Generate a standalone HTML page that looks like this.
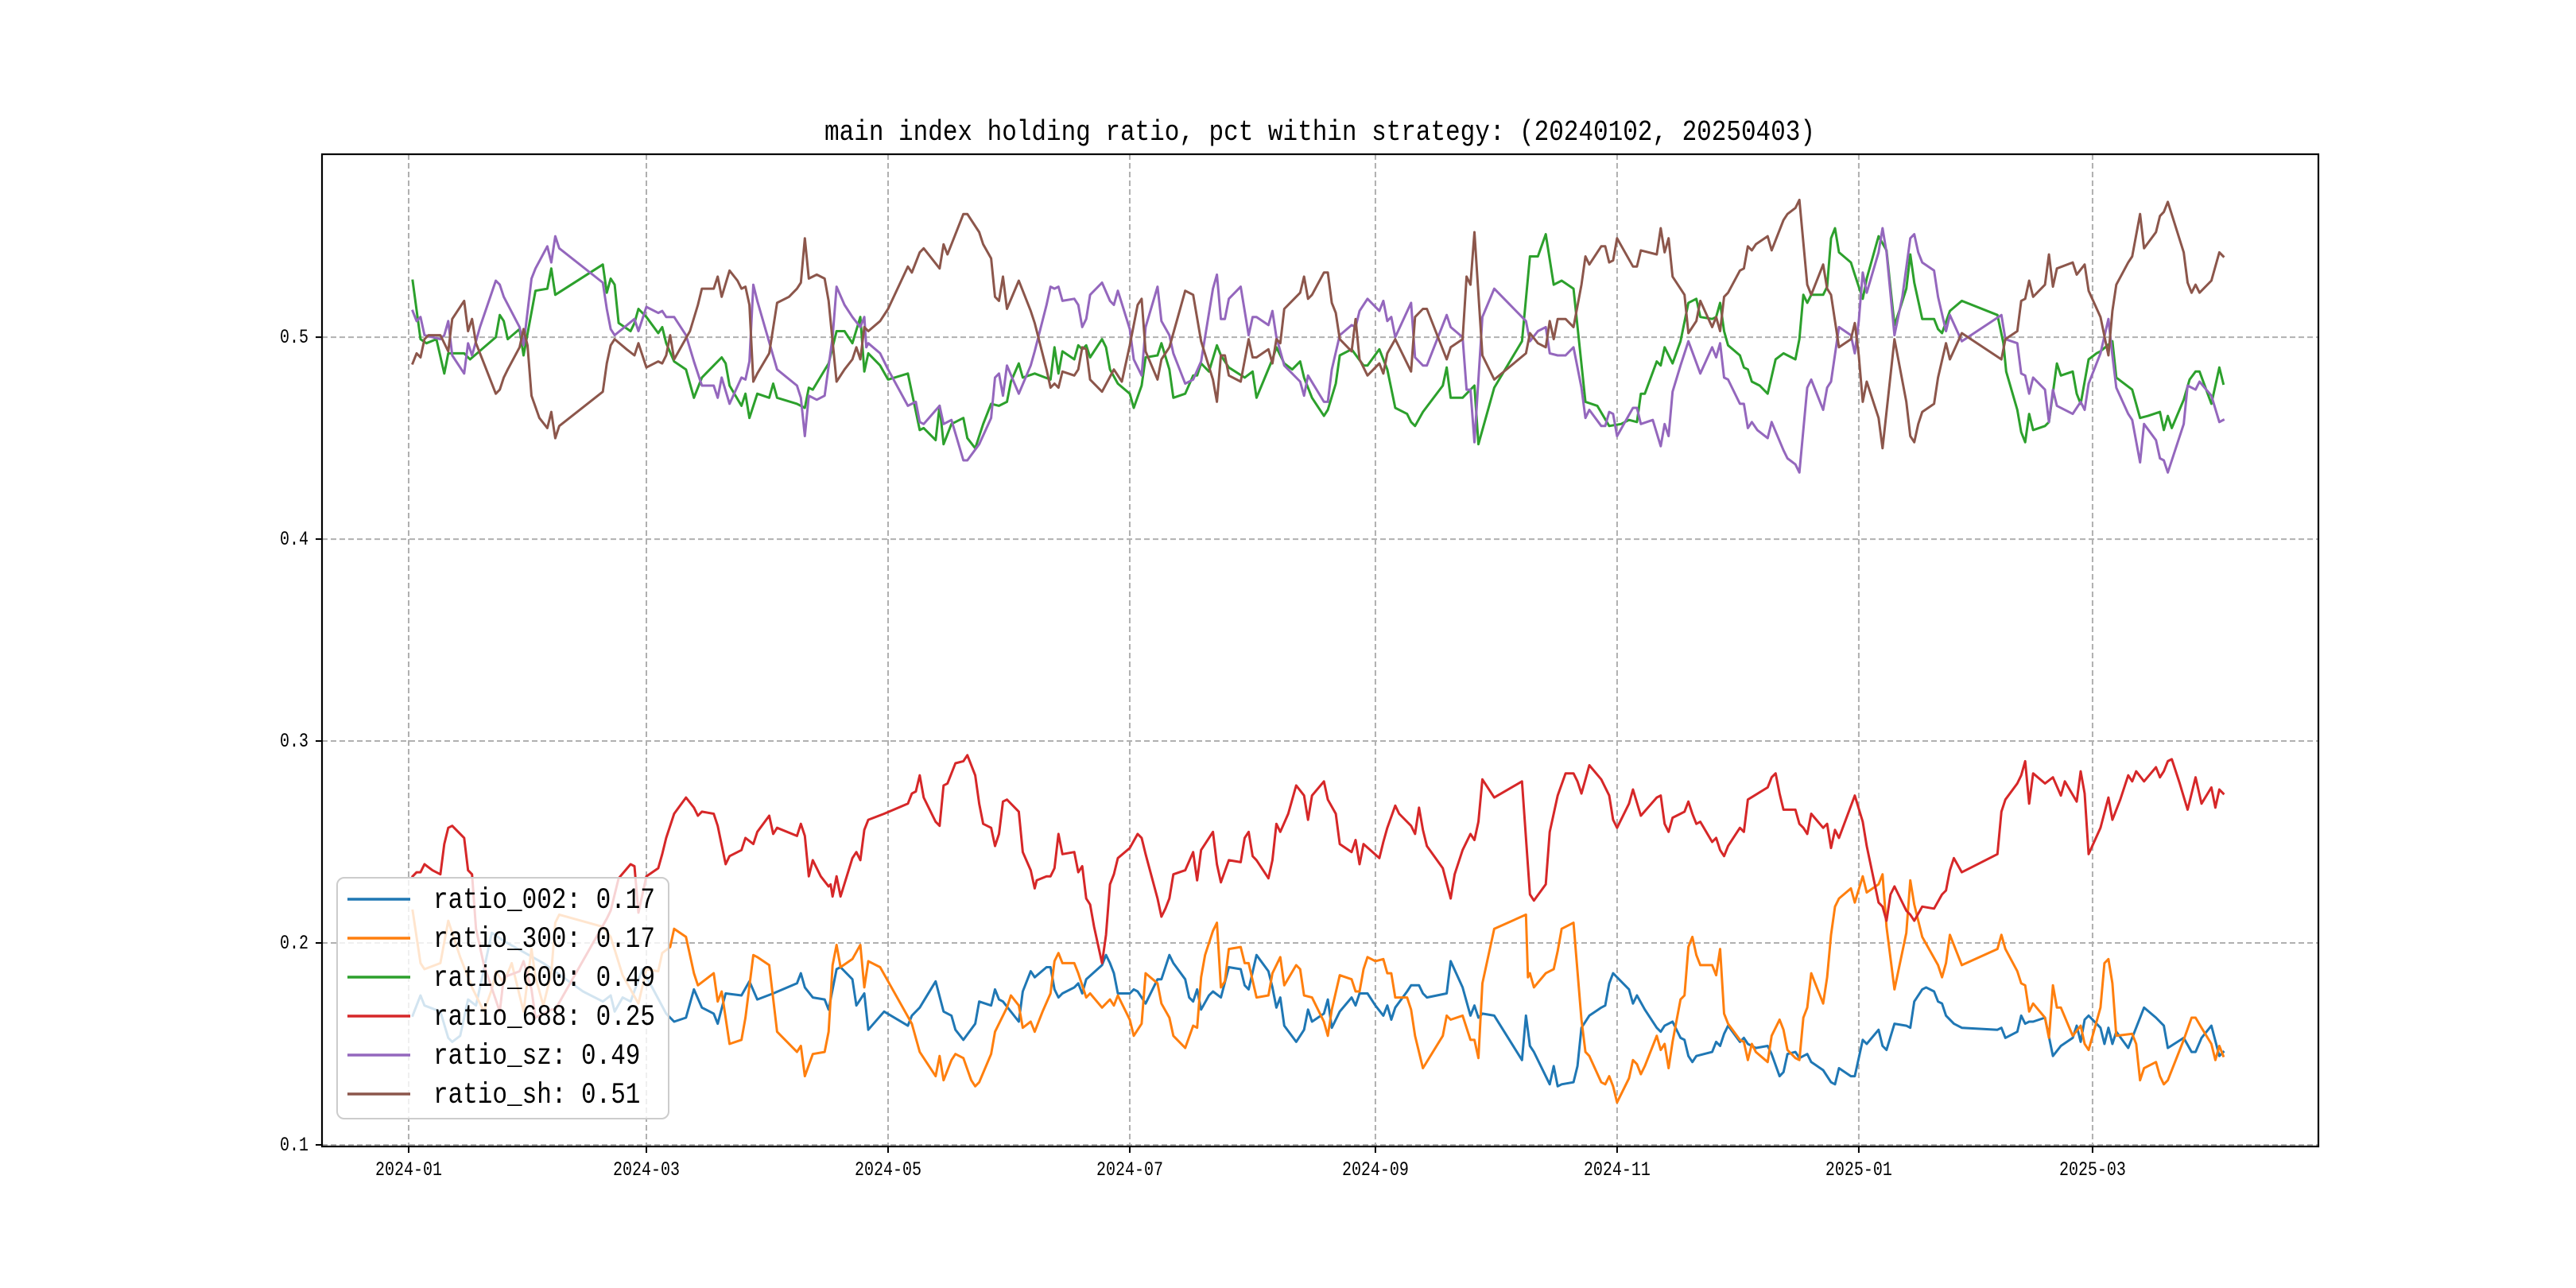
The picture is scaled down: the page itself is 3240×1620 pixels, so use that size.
<!DOCTYPE html>
<html><head><meta charset="utf-8"><title>main index holding ratio</title>
<style>
html,body{margin:0;padding:0;background:#fff;}
svg{display:block;}
text{font-family:"Liberation Mono","Noto Sans CJK SC",monospace;}
</style></head>
<body>
<svg id="chart" width="3240" height="1620" viewBox="0 0 3240 1620" xmlns="http://www.w3.org/2000/svg">
<rect x="0" y="0" width="3240" height="1620" fill="#fff"/>
<text x="1660" y="176" text-anchor="middle" font-size="31" transform="translate(1660,176) scale(1,1.18) translate(-1660,-176)">main index holding ratio, pct within strategy: (20240102, 20250403)</text>
<g id="grid"></g>
<g id="series"></g>
<rect x="405" y="194" width="2511" height="1248" fill="none" stroke="#000" stroke-width="2.2"/>
<g id="ticks"></g>
<g id="legend"></g>
</svg>
<script>
// ---- data (days since 2024-01-01) ----
const xTickDays = [0, 60, 121, 182, 244, 305, 366, 425];
const xTickLabels = ["2024-01","2024-03","2024-05","2024-07","2024-09","2024-11","2025-01","2025-03"];
const yTickValues = [0.1, 0.2, 0.3, 0.4, 0.5];
const yTickLabels = ["0.1","0.2","0.3","0.4","0.5"];
const seriesNames = ["ratio_002","ratio_300","ratio_600","ratio_688","ratio_sz","ratio_sh"];
const legendValues = ["0.17","0.17","0.49","0.25","0.49","0.51"];

const days002 = [1,3,4,8,10,11,13,15,17,21,24,34,39,44,49,51,52,54,56,59,65,67,70,72,74,77,78,80,84,86,88,92,98,99,100,102,105,106,108,109,112,113,115,116,120,126,127,129,133,135,137,138,140,143,144,147,148,149,150,154,155,157,158,161,162,163,164,165,168,169,170,171,175,176,177,178,179,182,183,184,186,189,190,192,193,196,197,198,199,200,202,203,205,207,210,211,212,214,217,218,219,220,221,224,225,226,227,228,231,232,233,235,238,239,240,242,244,246,247,248,249,252,253,255,256,257,262,263,266,268,269,270,271,274,281,282,283,284,288,289,290,291,294,295,296,298,301,302,303,304,308,309,310,312,315,316,317,319,321,322,323,324,325,329,330,331,332,333,336,337,338,340,343,344,346,347,348,350,351,353,354,357,359,360,361,364,365,367,368,371,372,373,375,378,379,380,382,383,385,386,387,388,390,392,401,402,403,406,407,408,409,410,413,415,417,420,421,422,423,424,427,428,429,430,431,434,438,441,443,444,448,450,451,452.5,455,457,458];
const vals002 = [.164,.174,.169,.166,.153,.151,.154,.172,.169,.205,.201,.19,.183,.176,.171,.174,.166,.173,.171,.187,.165,.161,.163,.177,.168,.165,.16,.175,.174,.181,.172,.175,.18,.185,.178,.173,.172,.167,.187,.188,.182,.169,.175,.157,.166,.159,.164,.168,.181,.166,.164,.157,.152,.16,.171,.169,.177,.172,.171,.161,.176,.186,.183,.188,.188,.177,.173,.175,.178,.18,.175,.182,.189,.194,.19,.185,.175,.175,.177,.176,.17,.182,.182,.194,.19,.182,.173,.171,.177,.167,.174,.176,.173,.188,.187,.179,.177,.194,.186,.178,.168,.173,.159,.151,.154,.157,.167,.161,.165,.172,.158,.166,.173,.169,.175,.175,.169,.164,.169,.162,.168,.176,.179,.179,.175,.173,.175,.191,.178,.164,.169,.163,.165,.164,.142,.164,.149,.146,.13,.139,.129,.13,.131,.139,.158,.164,.168,.169,.18,.185,.177,.17,.174,.167,.158,.156,.159,.161,.153,.152,.144,.141,.144,.146,.151,.149,.155,.159,.151,.153,.15,.148,.149,.145,.134,.136,.145,.146,.143,.145,.141,.137,.131,.13,.138,.134,.134,.152,.15,.157,.149,.147,.16,.159,.158,.171,.177,.178,.176,.171,.17,.164,.16,.158,.157,.158,.153,.156,.164,.16,.161,.161,.163,.144,.149,.153,.159,.151,.162,.164,.158,.15,.158,.15,.156,.148,.168,.163,.159,.148,.153,.146,.146,.153,.159,.144,.146];

const days300 = [1,3,4,8,10,13,16,19,21,22,24,26,29,31,32,34,36,37,38,49,51,54,58,60,63,64,66,67,70,72,73,77,78,79,81,84,85,87,88,91,93,98,99,100,102,105,106,107,108,109,112,114,115,116,119,121,127,129,133,134,135,137,138,140,142,143,144,147,148,151,152,154,155,157,158,160,162,163,164,165,168,169,170,171,172,175,177,178,179,182,183,185,186,189,190,192,193,196,198,199,200,201,203,204,205,206,207,210,211,212,214,217,218,220,221,224,225,226,228,231,232,233,235,238,239,240,241,242,244,246,247,248,249,252,253,254,256,261,262,263,266,268,269,270,271,274,282,282.5,283,284,287,289,290,291,294,296,297,298,301,302,303,304,305,308,309,310,311,312,315,316,317,318,319,321,322,323,324,325,326,329,330,331,332,333,336,337,338,339,340,343,344,346,347,348,350,351,352,353,354,357,358,359,360,361,364,365,367,368,371,372,373,375,378,379,380,382,386,387,388,389,392,401,402,403,406,407,408,409,410,413,414,415,416,417,420,422,423,424,427,428,429,430,431,435,436,437,438,441,442,443,444,448,450,451,452.5,455,456,457,458];
const vals300 = [.216,.19,.187,.19,.211,.193,.178,.166,.177,.186,.18,.19,.166,.197,.183,.169,.185,.21,.214,.208,.203,.184,.17,.187,.186,.195,.198,.207,.203,.185,.179,.185,.171,.176,.15,.152,.163,.194,.193,.189,.156,.146,.149,.134,.145,.146,.156,.189,.199,.188,.192,.199,.178,.191,.188,.181,.16,.146,.134,.144,.132,.142,.145,.143,.132,.129,.131,.145,.156,.168,.174,.169,.158,.161,.156,.166,.175,.191,.195,.19,.19,.185,.179,.173,.175,.168,.172,.169,.174,.162,.154,.16,.185,.18,.17,.163,.154,.148,.159,.158,.183,.194,.206,.21,.178,.181,.197,.198,.19,.19,.173,.174,.185,.193,.179,.189,.187,.174,.173,.161,.154,.167,.184,.182,.176,.176,.187,.193,.191,.192,.185,.185,.173,.173,.167,.154,.138,.154,.164,.162,.164,.152,.152,.143,.18,.207,.214,.183,.185,.178,.185,.187,.196,.207,.21,.162,.146,.144,.131,.13,.134,.129,.121,.133,.142,.14,.135,.139,.154,.147,.15,.138,.151,.172,.174,.198,.203,.194,.189,.189,.184,.197,.165,.16,.152,.151,.142,.15,.146,.141,.154,.162,.157,.147,.143,.142,.163,.168,.185,.17,.183,.204,.218,.222,.227,.22,.233,.225,.229,.234,.208,.177,.205,.231,.219,.203,.189,.183,.19,.204,.189,.197,.204,.197,.186,.18,.179,.166,.17,.163,.153,.179,.168,.168,.154,.159,.15,.147,.168,.19,.192,.18,.154,.155,.15,.132,.138,.141,.134,.13,.132,.152,.163,.163,.158,.15,.142,.149,.144];

const days600 = [1,3,4.5,7,9,10,14,15.5,22,23,24,25,28,29,32,35,36,37,49,50,51,52,53,56,57,58,60,63,64,65,67,70,72,74,79,80,81,84,85,86,88,91,92,93,98,100,101,102,106,108,110,112,114,115,116,119,121,126,129,130,133,134,135,137,140,141,143,145,147,149,151,152,154,155,158,162,163,164,165,168,169,170,171,172,175,176,177,179,182,183,185,186,189,190,192,193,196,198,199,200,202,204,205,207,211,213,214,218,219,221,223,225,226,228,231,232,234,235,238,241,242,245,247,249,252,253,254,256,261,262,263,266,269,270,274,281,283,285,287,289,291,294,297,300,303,306,308,310,311,312,315,316,317,319,321,323,325,326,329,330,331,332,333,336,337,338,339,341,343,345,347,350,351,352,353,354,357,358,359,360,361,364,365,367,368,371,373,375,376.4,378,379,380,382,385,386,387,389,392,401,402.5,403.2,406,407,408,409,410,413,414,416,417,420,421,422,424,426,427,430,431,435,437,439,442,443,444,445,448,449.5,451,452,455,457,458];
const vals600 = [.528,.499,.497,.499,.482,.492,.492,.489,.5,.511,.508,.499,.504,.491,.523,.524,.534,.521,.536,.522,.529,.526,.507,.503,.507,.514,.51,.502,.505,.497,.488,.484,.47,.48,.49,.487,.476,.466,.472,.46,.472,.47,.477,.47,.467,.465,.475,.474,.487,.503,.503,.497,.51,.483,.492,.486,.479,.482,.454,.455,.449,.466,.447,.457,.46,.45,.445,.457,.467,.466,.468,.478,.487,.48,.482,.479,.495,.482,.493,.489,.496,.494,.496,.49,.499,.495,.484,.477,.472,.465,.476,.49,.491,.497,.484,.47,.472,.481,.481,.487,.483,.496,.491,.485,.48,.483,.47,.489,.495,.487,.484,.488,.48,.47,.461,.464,.477,.491,.494,.486,.486,.494,.484,.465,.462,.458,.456,.463,.476,.485,.47,.47,.476,.447,.475,.498,.54,.54,.551,.526,.528,.524,.468,.466,.456,.457,.459,.458,.472,.472,.488,.486,.495,.487,.498,.517,.519,.51,.509,.51,.517,.503,.496,.491,.485,.484,.478,.476,.472,.489,.492,.489,.499,.521,.517,.521,.521,.525,.549,.554,.542,.537,.531,.519,.529,.55,.543,.506,.514,.524,.541,.527,.509,.509,.504,.502,.513,.518,.511,.497,.483,.464,.453,.448,.462,.454,.456,.458,.487,.481,.483,.472,.467,.489,.492,.493,.498,.48,.474,.46,.461,.463,.454,.461,.455,.469,.479,.483,.483,.467,.485,.477];

const days688 = [1,2,3,4,6,8,9,10,11,14,15,16,17,19,23,24,28,29,31,32,36,37,50,51,53,56,57,58,60,63,64,65,67,70,72,73,74,77,78,80,81,84,85,87,88,91,92,93,98,99,100,101,102,104,106,106.5,107,108,109,112,113,114,115,116,120,126,127,128,129,130,133,134,135,136,138,140,141,143,144,145,147,148,149,150,151,154,155,157,158,158.5,161,162,163,164,165,168,169,170,171,172,173,175,176,177,178,179,182,184,185,186,189,190,191,192,193,196,198,199,200,201,203,204,205,207,210,211,212,213,214,217,218,219,220,222,223,224,226,227,228,231,232,234,235,238,239,240,241,245,246,247,249,250,253,254,255,256,257,261,263,264,266,268,269,270,271,274,281,283,284,287,288,290,292,294,295,296,297,298,301,303,304,305,308,309,311,315,316,317,318,319,321,322,323,324,325,326,329,330,331,332,333,336,337,338,343,344,345,346,347,350,351,352,353,354,357,358,359,360,361,365,367,368,371,372,373,374,375,378,379,380,382,385,387,388,389,390,392,401,402,403,406,407,408,409,410,413,415,417,418,421,422,423,424,427,429,430,432,434,435,436,438,441,442,443,444,445,447,449,451,452.5,455,456,457,458];
const vals688 = [.233,.235,.235,.239,.236,.234,.249,.257,.258,.252,.236,.234,.207,.189,.166,.183,.186,.191,.177,.163,.167,.167,.212,.216,.232,.239,.238,.215,.233,.237,.244,.252,.264,.272,.267,.263,.265,.264,.258,.239,.243,.246,.252,.249,.255,.263,.254,.257,.253,.259,.253,.233,.241,.233,.228,.229,.223,.233,.223,.242,.245,.241,.256,.261,.264,.269,.274,.275,.283,.272,.26,.258,.278,.279,.289,.29,.293,.283,.269,.259,.257,.248,.254,.27,.271,.265,.245,.236,.227,.231,.233,.233,.237,.254,.244,.245,.235,.238,.222,.219,.208,.19,.204,.229,.234,.242,.247,.254,.252,.244,.222,.213,.217,.222,.234,.236,.245,.231,.246,.249,.255,.239,.23,.241,.24,.252,.255,.243,.241,.232,.241,.259,.255,.264,.271,.278,.273,.261,.273,.28,.271,.264,.249,.245,.251,.239,.249,.242,.25,.257,.268,.264,.258,.254,.267,.256,.248,.237,.222,.234,.246,.254,.251,.26,.281,.272,.28,.224,.221,.229,.255,.273,.284,.284,.28,.274,.281,.288,.281,.273,.261,.257,.269,.276,.263,.272,.273,.259,.255,.262,.264,.265,.27,.264,.259,.26,.25,.252,.246,.243,.248,.257,.255,.271,.277,.282,.284,.274,.266,.266,.259,.257,.254,.264,.257,.259,.247,.256,.252,.273,.26,.248,.22,.218,.211,.224,.228,.216,.214,.211,.218,.217,.224,.226,.236,.242,.235,.244,.265,.271,.279,.283,.29,.269,.284,.279,.282,.273,.28,.27,.285,.274,.244,.257,.272,.261,.271,.283,.28,.285,.28,.287,.282,.285,.29,.291,.279,.266,.282,.269,.277,.267,.276,.274];

const daysSz = [1,2,3,4,8,9,10,11,14,15,16,18,22,23,24,28,29,31,32,35,36,37,38,49,50,51,52,57,58,60,63,64,65,67,70,72,74,77,78,79,81,84,85,86,87,88,93,98,99,100,101,103,105,107,108,110,112,114,115,115.5,116,119,121,126,128,129,130,134,135,137,140,141,144,147,148,149,150,151,154,157,158,161,162,163,164,165,168,169,170,171,172,175,177,178,179,182,183,185,186,189,190,192,193,196,198,200,203,204,205,206,207,210,212,213,214,217,218,219,221,225,226,227,231,232,233,235,238,239,240,242,245,246,247,248,249,253,254,256,257,262,263,266,267,268,269,271,274,282,283,285,287,288,290,292,294,296,297,298,301,302,303,304,305,309,310,311,314,316,317,318,319,321,323,326,329,330,331,332,333,336,337,338,339,340.4,343,344,347,348,350,351,353,354,357,358,359,361,364,365,366,367,368,371,372,373,375,377,379,380,381,382,385,386,388,389,392,402,403,406,407,408,409,410,413,414,415,416,420,422,423,424,427,429,430,431,434,435,437,438,441,442,443,444,448,449,451,452,455,457,458];
const valsSz = [.513,.508,.51,.501,.499,.501,.508,.491,.482,.497,.491,.505,.528,.526,.52,.505,.496,.529,.534,.545,.537,.55,.544,.527,.514,.504,.501,.509,.503,.515,.512,.513,.51,.51,.501,.488,.476,.476,.47,.48,.467,.48,.479,.488,.526,.518,.484,.476,.47,.451,.471,.469,.471,.5,.525,.516,.51,.505,.51,.495,.497,.492,.484,.466,.468,.458,.457,.466,.457,.459,.439,.439,.447,.46,.48,.482,.471,.486,.472,.486,.493,.516,.525,.524,.525,.518,.519,.516,.505,.509,.521,.527,.518,.516,.523,.504,.489,.481,.505,.525,.508,.501,.492,.477,.479,.488,.524,.531,.509,.509,.519,.525,.501,.51,.51,.506,.513,.5,.486,.478,.471,.481,.468,.468,.484,.501,.506,.505,.513,.519,.513,.518,.508,.51,.5,.517,.49,.486,.486,.511,.505,.5,.474,.474,.448,.51,.524,.508,.498,.503,.505,.492,.491,.491,.495,.475,.46,.464,.456,.456,.463,.462,.451,.465,.465,.457,.459,.446,.457,.451,.473,.486,.498,.482,.495,.49,.497,.48,.479,.467,.467,.455,.458,.454,.45,.458,.444,.44,.437,.433,.475,.479,.464,.475,.478,.505,.501,.492,.508,.532,.522,.542,.554,.542,.501,.52,.549,.551,.542,.537,.533,.52,.503,.511,.498,.511,.499,.497,.482,.481,.472,.48,.474,.458,.474,.466,.462,.468,.464,.477,.492,.509,.491,.475,.462,.459,.438,.457,.449,.44,.439,.433,.457,.476,.474,.478,.471,.458,.459];

const daysSh = [1,2,3,4,5,7,8,10,11,14,15,16,17,19,22,23,24,25,28,29,30,31,33,35,36,37,38,49,50,51,52,55,57,58,60,63,64,65,66,67,71,73,74,77,78,79,81,83,84,85,86,87,88,91,93,96,98,99,100,101,103,105,106,108,110,112,113,114,115,116,119,121,126,127,129,130,134,135,136,140,141,144,145,147,148,149,150,151,154,157,158,161,162,163,164,165,168,169,170,171,172,175,178,180,182,184,185,186,189,190,192,194,196,198,200,203,204,205,206,207,210,212,213,214,217,218,219,220,221,225,226,227,228,231,232,233,234,235,238,239,240,242,245,246,247,249,253,254,256,257,262,263,266,267,268,269,271,274,282,283,285,287,288,289,290,292,294,296,297,298,301,302,303,304,305,309,310,311,315,316,317,318,319,322,323,325,326,329,330,331,332,333,336,337,338,339,340,343,344,347,348,350,351,353,354,357,358,359,361,364,365,366,367,368,371,372,375,378,379,380,381,382,385,386,388,389,392,402,403,406,407,408,409,410,413,414,415,416,420,421,423,424,427,429,430,431,434,435,437,438,441,442,443,444,448,449,450,451,452,455,457,458];
const valsSh = [.487,.492,.49,.499,.501,.501,.501,.493,.509,.518,.503,.509,.497,.487,.472,.474,.48,.484,.495,.504,.496,.471,.46,.455,.463,.45,.456,.473,.487,.496,.499,.494,.491,.497,.485,.488,.487,.491,.501,.489,.503,.516,.524,.524,.53,.52,.533,.528,.524,.525,.516,.478,.482,.492,.517,.52,.524,.527,.549,.529,.531,.529,.518,.478,.484,.489,.495,.489,.505,.503,.508,.514,.535,.532,.542,.544,.534,.546,.541,.561,.561,.552,.546,.539,.52,.518,.53,.514,.528,.513,.507,.484,.475,.477,.475,.483,.481,.484,.495,.494,.479,.473,.484,.478,.496,.516,.519,.493,.479,.489,.495,.509,.523,.521,.498,.479,.468,.491,.491,.481,.478,.499,.49,.49,.494,.487,.499,.497,.514,.522,.53,.519,.521,.532,.532,.517,.512,.499,.493,.509,.489,.481,.487,.482,.492,.499,.483,.51,.514,.514,.489,.495,.499,.53,.526,.552,.491,.479,.492,.502,.497,.495,.508,.499,.509,.509,.505,.526,.54,.536,.545,.545,.537,.538,.549,.535,.535,.543,.541,.554,.542,.549,.53,.521,.502,.508,.518,.505,.51,.503,.52,.522,.533,.534,.545,.543,.546,.55,.543,.558,.561,.564,.568,.526,.521,.536,.524,.521,.495,.499,.507,.491,.468,.478,.46,.445,.499,.468,.451,.448,.457,.463,.467,.48,.497,.489,.502,.489,.499,.503,.518,.519,.528,.52,.526,.541,.525,.534,.537,.531,.536,.523,.51,.491,.513,.526,.537,.54,.561,.544,.552,.56,.562,.567,.542,.527,.522,.526,.522,.528,.542,.54];

// ---- axis functions ----
const X0 = 405, X1 = 2916, Y0 = 194, Y1 = 1442;
const dMin = -21.87, dMax = 482.0;
const vMin = 0.0992, vMax = 0.5906;
function xScale(d){ return X0 + (d - dMin) / (dMax - dMin) * (X1 - X0); }
function yScale(v){ return Y1 - (v - vMin) / (vMax - vMin) * (Y1 - Y0); }

const NS = "http://www.w3.org/2000/svg";
function mk(tag, attrs){ const e = document.createElementNS(NS, tag); for (const k in attrs) e.setAttribute(k, attrs[k]); return e; }

const grid = document.getElementById("grid");
const ticks = document.getElementById("ticks");

xTickDays.forEach((d, i) => {
  const x = xScale(d);
  const g = mk("line", {x1:x, x2:x, y1:Y0, y2:Y1, stroke:"#b0b0b0", "stroke-width":2, "stroke-dasharray":"7,4"});
  
  
  grid.appendChild(g);
  const t = mk("line", {x1:x, x2:x, y1:Y1, y2:Y1+8, stroke:"#000", "stroke-width":2});
  
  
  ticks.appendChild(t);
  const lbl = mk("text", {x:x, y:1478, "text-anchor":"middle", "font-size":20, transform:`translate(${x},1478) scale(1,1.25) translate(${-x},-1478)`});
  lbl.textContent = xTickLabels[i];
  
  
  ticks.appendChild(lbl);
});

yTickValues.forEach((v, i) => {
  const y = yScale(v);
  const g = mk("line", {x1:X0, x2:X1, y1:y, y2:y, stroke:"#b0b0b0", "stroke-width":2, "stroke-dasharray":"7,4"});
  
  
  grid.appendChild(g);
  const t = mk("line", {x1:X0-8, x2:X0, y1:y, y2:y, stroke:"#000", "stroke-width":2});
  
  
  ticks.appendChild(t);
  const ly = y + 7;
  const lbl = mk("text", {x:388, y:ly, "text-anchor":"end", "font-size":20, transform:`translate(388,${ly}) scale(1,1.25) translate(-388,${-ly})`});
  lbl.textContent = yTickLabels[i];
  
  
  ticks.appendChild(lbl);
});

const colors = ["#1f77b4","#ff7f0e","#2ca02c","#d62728","#9467bd","#8c564b"];
const allDays = [days002, days300, days600, days688, daysSz, daysSh];
const allVals = [vals002, vals300, vals600, vals688, valsSz, valsSh];
const lineNames = ["line-ratio-002","line-ratio-300","line-ratio-600","line-ratio-688","line-ratio-sz","line-ratio-sh"];
const seriesG = document.getElementById("series");
allDays.forEach((ds, si) => {
  const vs = allVals[si];
  const n = Math.min(ds.length, vs.length);
  let pts = [];
  for (let i = 0; i < n; i++) pts.push(xScale(ds[i]).toFixed(1) + "," + yScale(vs[i]).toFixed(1));
  const p = mk("polyline", {points: pts.join(" "), fill:"none", stroke:colors[si], "stroke-width":3, "stroke-linejoin":"round", "stroke-linecap":"square"});
  
  
  seriesG.appendChild(p);
});

// legend
const leg = document.getElementById("legend");
const box = mk("rect", {x:424, y:1104, width:417, height:303, rx:9, ry:9, fill:"#fff", "fill-opacity":0.8, stroke:"#cccccc", "stroke-width":2});


leg.appendChild(box);
seriesNames.forEach((nm, i) => {
  const y = 1131 + i * 49;
  const l = mk("line", {x1:437, x2:516, y1:y, y2:y, stroke:colors[i], "stroke-width":3.5});
  
  
  leg.appendChild(l);
  const ty = y + 11;
  const t = mk("text", {x:545, y:ty, "font-size":31, transform:`translate(545,${ty}) scale(1,1.2) translate(-545,${-ty})`});
  t.textContent = nm + ": " + legendValues[i];
  
  
  leg.appendChild(t);
});
</script>
</body></html>
